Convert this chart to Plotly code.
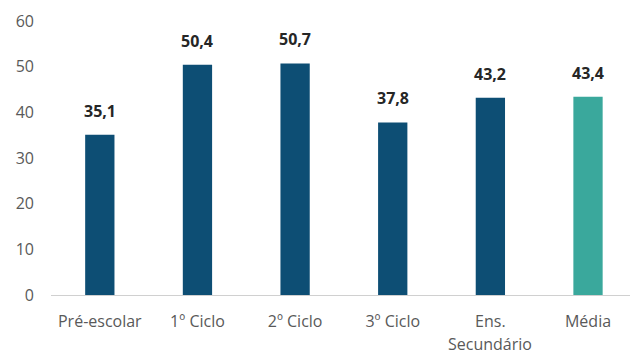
import plotly.graph_objects as go

categories = ["Pré-escolar", "1º Ciclo", "2º Ciclo", "3º Ciclo", "Ens. Secundário", "Média"]
values = [35.1, 50.4, 50.7, 37.8, 43.2, 43.4]
bar_colors = ["#0D4E74", "#0D4E74", "#0D4E74", "#0D4E74", "#0D4E74", "#3AA89C"]
y_ticks = [0, 10, 20, 30, 40, 50, 60]

labels = [f"{v:.1f}".replace(".", ",") for v in values]

# Two-word categories are split: first word as tick label, rest as a
# second line drawn a bit lower (wider line spacing than <br> gives).
first_lines = [c.split(" ")[0] if c.startswith("Ens.") else c for c in categories]
second_lines = [(i, c.split(" ", 1)[1]) for i, c in enumerate(categories) if c.startswith("Ens.")]

fig = go.Figure(
    go.Bar(
        x=list(range(len(categories))),
        y=values,
        marker=dict(color=bar_colors, line=dict(width=0)),
        width=0.3,
        hoverinfo="skip",
    )
)

for i, (v, t) in enumerate(zip(values, labels)):
    fig.add_annotation(
        x=i, y=v, text=f"<b>{t}</b>", showarrow=False,
        yanchor="bottom", yshift=11,
        font=dict(family="Open Sans", size=16, color="#262626"),
    )

for i, t in second_lines:
    fig.add_annotation(
        x=i, xref="x", y=0, yref="y", text=t, showarrow=False,
        yanchor="middle", yshift=-49,
        font=dict(family="Open Sans", size=16, color="#595959"),
    )

fig.update_layout(
    width=630, height=356,
    margin=dict(l=51, r=0, t=21, b=61),
    paper_bgcolor="white", plot_bgcolor="white",
    showlegend=False,
    font=dict(family="Open Sans", size=16, color="#595959"),
    xaxis=dict(
        range=[-0.5, 5.43],
        tickmode="array",
        tickvals=list(range(len(categories))),
        ticktext=first_lines,
        showgrid=False, zeroline=False,
        showline=True, linecolor="#D0D0D0", linewidth=1,
        ticks="", ticklabelstandoff=12,
    ),
    yaxis=dict(
        range=[0, 60],
        tickvals=y_ticks,
        showgrid=False, zeroline=False, showline=False,
        ticks="", ticklabelstandoff=16,
    ),
)

fig.write_html("out.html")
